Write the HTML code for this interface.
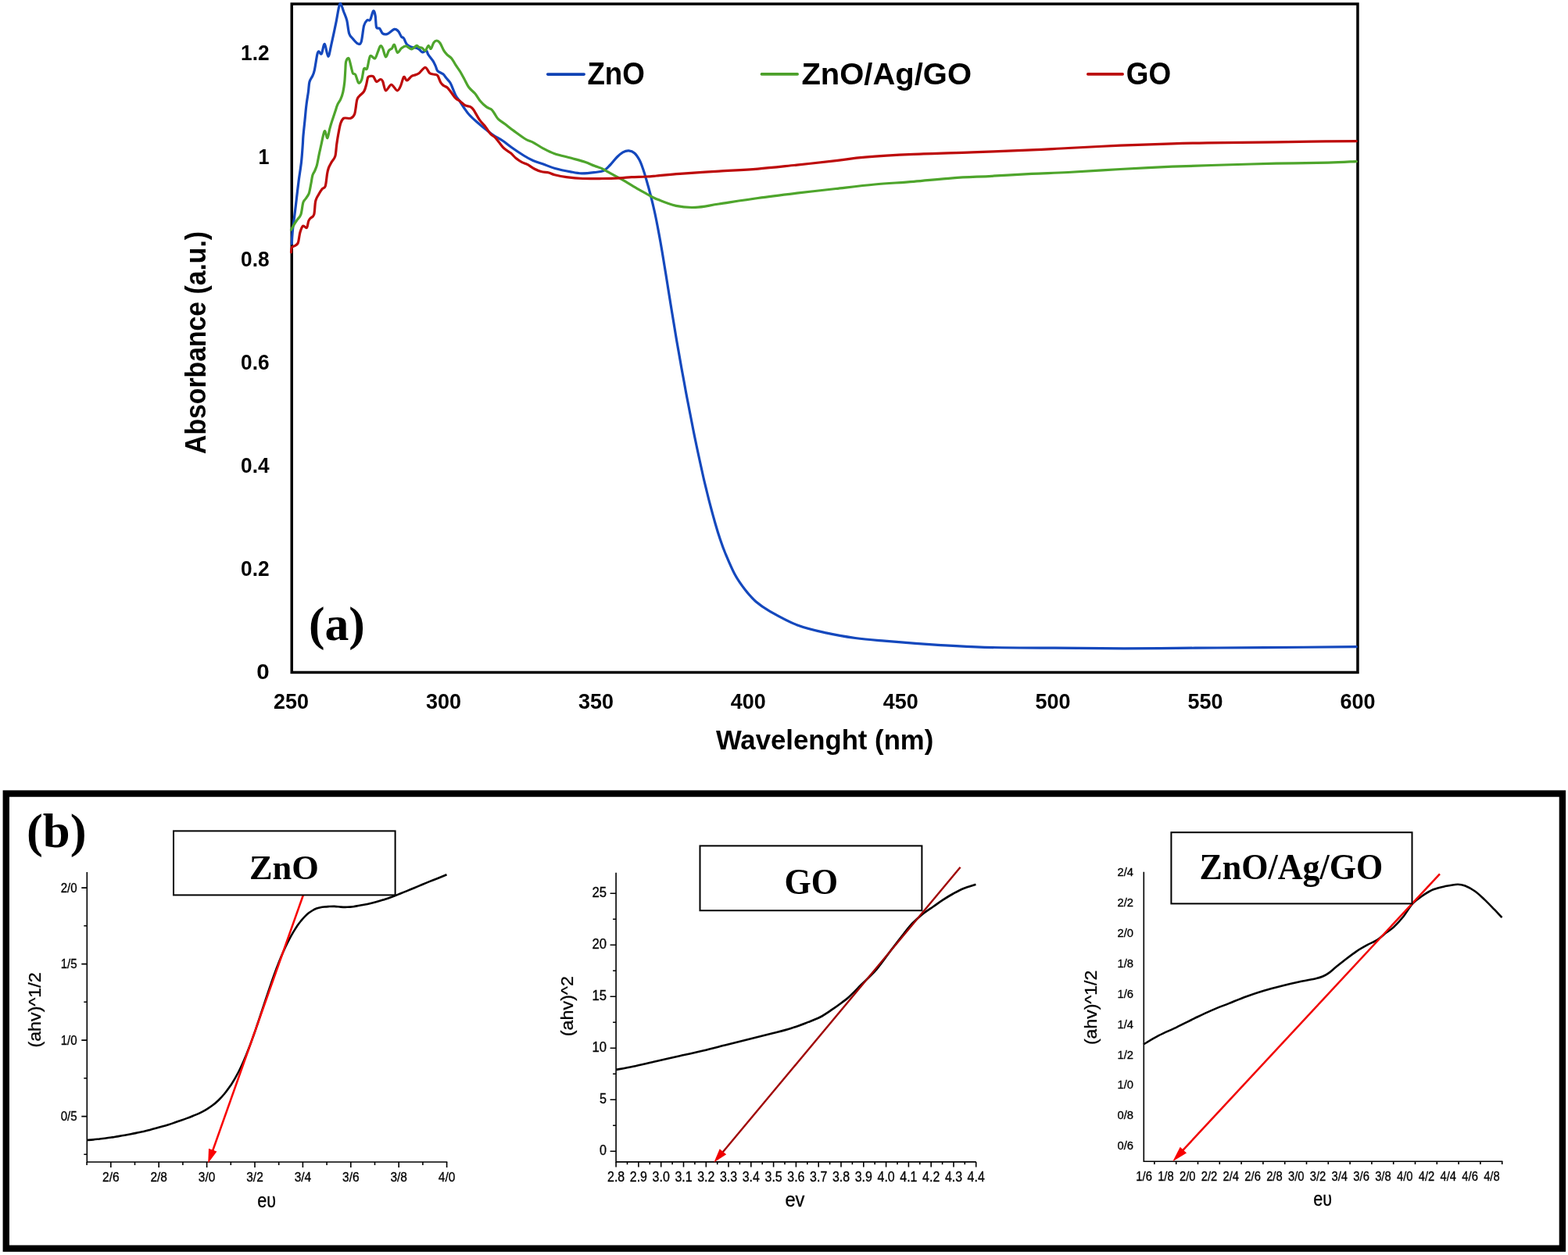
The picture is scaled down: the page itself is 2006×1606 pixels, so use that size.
<!DOCTYPE html><html><head><meta charset="utf-8"><title>UV-Vis absorbance and Tauc plots</title><style>html,body{margin:0;padding:0;background:#fff;}svg{display:block;}</style></head><body>
<svg width="2006" height="1606" viewBox="0 0 2006 1606">
<rect width="2006" height="1606" fill="#fff"/>
<text x="344.6" y="77.4" font-family="'Liberation Sans', sans-serif" font-size="27.5" font-weight="bold" text-anchor="end" textLength="36.5" lengthAdjust="spacingAndGlyphs">1.2</text>
<text x="344.6" y="209.6" font-family="'Liberation Sans', sans-serif" font-size="27.5" font-weight="bold" text-anchor="end" textLength="14.0" lengthAdjust="spacingAndGlyphs">1</text>
<text x="344.6" y="340.7" font-family="'Liberation Sans', sans-serif" font-size="27.5" font-weight="bold" text-anchor="end" textLength="36.5" lengthAdjust="spacingAndGlyphs">0.8</text>
<text x="344.6" y="472.7" font-family="'Liberation Sans', sans-serif" font-size="27.5" font-weight="bold" text-anchor="end" textLength="36.5" lengthAdjust="spacingAndGlyphs">0.6</text>
<text x="344.6" y="605.3" font-family="'Liberation Sans', sans-serif" font-size="27.5" font-weight="bold" text-anchor="end" textLength="36.5" lengthAdjust="spacingAndGlyphs">0.4</text>
<text x="344.6" y="737.2" font-family="'Liberation Sans', sans-serif" font-size="27.5" font-weight="bold" text-anchor="end" textLength="36.5" lengthAdjust="spacingAndGlyphs">0.2</text>
<text x="344.6" y="869.0" font-family="'Liberation Sans', sans-serif" font-size="27.5" font-weight="bold" text-anchor="end" textLength="16.4" lengthAdjust="spacingAndGlyphs">0</text>
<text x="372.6" y="907.0" font-family="'Liberation Sans', sans-serif" font-size="27.5" font-weight="bold" text-anchor="middle" textLength="45.0" lengthAdjust="spacingAndGlyphs">250</text>
<text x="567.5" y="907.0" font-family="'Liberation Sans', sans-serif" font-size="27.5" font-weight="bold" text-anchor="middle" textLength="45.0" lengthAdjust="spacingAndGlyphs">300</text>
<text x="762.4" y="907.0" font-family="'Liberation Sans', sans-serif" font-size="27.5" font-weight="bold" text-anchor="middle" textLength="45.0" lengthAdjust="spacingAndGlyphs">350</text>
<text x="957.3" y="907.0" font-family="'Liberation Sans', sans-serif" font-size="27.5" font-weight="bold" text-anchor="middle" textLength="45.0" lengthAdjust="spacingAndGlyphs">400</text>
<text x="1152.2" y="907.0" font-family="'Liberation Sans', sans-serif" font-size="27.5" font-weight="bold" text-anchor="middle" textLength="45.0" lengthAdjust="spacingAndGlyphs">450</text>
<text x="1347.1" y="907.0" font-family="'Liberation Sans', sans-serif" font-size="27.5" font-weight="bold" text-anchor="middle" textLength="45.0" lengthAdjust="spacingAndGlyphs">500</text>
<text x="1542.0" y="907.0" font-family="'Liberation Sans', sans-serif" font-size="27.5" font-weight="bold" text-anchor="middle" textLength="45.0" lengthAdjust="spacingAndGlyphs">550</text>
<text x="1736.9" y="907.0" font-family="'Liberation Sans', sans-serif" font-size="27.5" font-weight="bold" text-anchor="middle" textLength="45.0" lengthAdjust="spacingAndGlyphs">600</text>
<text x="1055.1" y="958.5" font-family="'Liberation Sans', sans-serif" font-size="35.6" font-weight="bold" text-anchor="middle" textLength="278.4" lengthAdjust="spacingAndGlyphs">Wavelenght (nm)</text>
<text transform="translate(262.6,438.4) rotate(-90)" x="0" y="0" font-family="'Liberation Sans', sans-serif" font-size="36" font-weight="bold" text-anchor="middle" textLength="285" lengthAdjust="spacingAndGlyphs">Absorbance (a.u.)</text>
<g stroke-linecap="round" stroke-width="3.6" fill="none">
<line x1="700.7" y1="95.1" x2="747.2" y2="95.1" stroke="#0f42b4"/>
<line x1="974.4" y1="94.9" x2="1020.2" y2="94.9" stroke="#4ca02a"/>
<line x1="1391.8" y1="94.9" x2="1436.2" y2="94.9" stroke="#bb0a0a"/>
</g>
<text x="751.4" y="108.2" font-family="'Liberation Sans', sans-serif" font-size="40.0" font-weight="bold" text-anchor="start" textLength="73.5" lengthAdjust="spacingAndGlyphs">ZnO</text>
<text x="1025.4" y="107.8" font-family="'Liberation Sans', sans-serif" font-size="39.0" font-weight="bold" text-anchor="start" textLength="217.6" lengthAdjust="spacingAndGlyphs">ZnO/Ag/GO</text>
<text x="1440.8" y="108.2" font-family="'Liberation Sans', sans-serif" font-size="40.0" font-weight="bold" text-anchor="start" textLength="57.4" lengthAdjust="spacingAndGlyphs">GO</text>
<text x="394.9" y="818.6" font-family="'Liberation Serif', serif" font-size="61.0" font-weight="bold" text-anchor="start" textLength="72.0" lengthAdjust="spacingAndGlyphs">(a)</text>
<rect x="373.25" y="5.05" width="1363.7" height="855.4" fill="none" stroke="#000" stroke-width="3.5"/>
<g fill="none" stroke-width="3.2" stroke-linejoin="round" stroke-linecap="round">
<path d="M373.3,312.0 C373.4,309.5 373.7,302.6 374.2,297.0 C374.7,291.4 375.6,285.4 376.5,278.4 C377.4,271.4 378.4,262.8 379.3,255.0 C380.2,247.2 381.1,239.5 382.1,231.7 C383.1,223.9 384.5,216.1 385.4,208.3 C386.3,200.5 386.9,190.6 387.3,185.0 C387.7,179.4 387.5,179.7 387.9,174.7 C388.3,169.7 389.2,161.4 389.9,154.8 C390.6,148.2 391.1,141.1 391.9,134.9 C392.6,128.8 393.7,122.9 394.4,117.9 C395.1,112.9 395.0,108.5 395.9,105.0 C396.8,101.5 398.8,99.5 399.9,97.0 C401.0,94.5 401.3,94.3 402.3,89.8 C403.3,85.3 404.9,73.8 405.8,69.8 C406.7,65.8 406.9,66.0 407.8,65.8 C408.7,65.6 410.1,70.4 411.3,68.8 C412.6,67.2 413.9,55.7 415.3,56.3 C416.7,56.9 418.4,72.0 419.8,72.3 C421.2,72.5 422.1,64.9 423.7,57.8 C425.3,50.7 427.9,38.4 429.7,29.9 C431.4,21.4 433.0,10.4 434.2,6.5 C435.4,2.6 435.8,5.1 436.7,6.5 C437.6,7.9 438.5,11.8 439.7,15.0 C440.9,18.2 442.5,21.2 443.7,25.9 C444.9,30.5 445.4,38.9 446.7,42.9 C448.0,46.9 449.9,47.8 451.7,49.9 C453.5,52.0 455.9,55.1 457.6,55.8 C459.3,56.4 460.8,57.6 462.1,53.8 C463.4,50.0 464.4,37.5 465.6,32.9 C466.9,28.2 468.3,27.1 469.6,25.9 C470.9,24.6 472.3,27.4 473.6,25.4 C474.9,23.4 476.5,14.9 477.6,14.0 C478.7,13.1 479.4,16.4 480.1,19.9 C480.8,23.4 480.7,32.1 481.6,34.9 C482.5,37.6 484.3,35.1 485.6,36.4 C486.9,37.7 488.0,41.7 489.6,42.9 C491.2,44.1 493.0,44.3 495.5,43.4 C498.0,42.5 502.2,38.0 504.5,37.4 C506.8,36.8 508.0,38.3 509.5,39.9 C511.0,41.5 512.3,45.4 513.5,46.9 C514.7,48.4 515.3,47.2 516.5,48.9 C517.7,50.5 518.9,54.9 520.5,56.8 C522.1,58.7 524.3,59.5 526.4,60.3 C528.5,61.1 531.2,60.8 533.0,61.4 C534.8,62.0 535.8,63.0 537.0,63.9 C538.2,64.8 539.1,66.7 540.5,66.9 C541.9,67.1 544.3,64.4 545.5,64.9 C546.7,65.4 546.5,67.7 547.9,69.9 C549.3,72.1 552.3,75.4 553.9,77.9 C555.5,80.4 556.4,82.8 557.4,84.9 C558.4,87.1 558.3,89.2 559.9,90.8 C561.5,92.4 565.1,93.3 566.9,94.8 C568.7,96.3 569.4,98.0 570.9,99.8 C572.4,101.6 574.4,103.3 575.9,105.8 C577.4,108.3 578.7,112.0 579.9,114.8 C581.1,117.6 581.8,120.0 583.2,122.5 C584.6,125.0 586.6,127.1 588.2,129.5 C589.8,131.9 591.0,134.2 593.0,137.0 C595.0,139.8 597.2,143.3 600.0,146.5 C602.8,149.7 606.3,152.8 610.0,156.0 C613.7,159.2 618.3,163.1 622.0,166.0 C625.7,168.9 628.5,171.2 632.0,173.5 C635.5,175.8 639.2,177.4 643.0,180.0 C646.8,182.6 650.5,185.8 655.0,189.0 C659.5,192.2 665.5,196.2 670.0,199.0 C674.5,201.8 677.8,203.7 682.0,205.5 C686.2,207.3 690.3,208.3 695.0,210.0 C699.7,211.7 704.2,213.9 710.0,215.5 C715.8,217.1 724.3,218.8 730.0,219.8 C735.7,220.9 739.0,221.7 744.0,221.8 C749.0,221.9 755.3,221.2 760.0,220.6 C764.7,220.0 768.5,220.1 772.0,218.5 C775.5,216.9 777.8,213.9 780.7,211.0 C783.6,208.1 786.7,203.7 789.4,201.0 C792.1,198.3 794.4,196.2 796.9,194.8 C799.4,193.5 801.9,192.7 804.4,192.9 C806.9,193.1 809.5,194.0 811.8,196.0 C814.1,198.0 816.2,201.3 818.1,204.8 C820.0,208.3 821.5,213.0 823.0,217.2 C824.5,221.4 825.3,224.5 826.9,230.0 C828.5,235.5 830.7,243.3 832.4,250.0 C834.1,256.7 835.7,263.3 837.2,270.0 C838.7,276.7 840.0,283.3 841.3,290.0 C842.6,296.7 843.8,303.3 845.0,310.0 C846.2,316.7 847.3,323.3 848.4,330.0 C849.5,336.7 850.6,343.3 851.7,350.0 C852.8,356.7 853.8,363.3 854.9,370.0 C856.0,376.7 857.0,383.3 858.1,390.0 C859.2,396.7 860.3,403.3 861.4,410.0 C862.5,416.7 863.6,423.3 864.7,430.0 C865.8,436.7 867.0,443.3 868.2,450.0 C869.4,456.7 870.5,463.3 871.7,470.0 C872.9,476.7 874.2,483.3 875.4,490.0 C876.6,496.7 877.8,503.3 879.1,510.0 C880.4,516.7 881.7,523.3 883.0,530.0 C884.3,536.7 885.6,543.3 886.9,550.0 C888.2,556.7 889.6,563.3 891.0,570.0 C892.4,576.7 893.8,583.3 895.3,590.0 C896.8,596.7 898.2,603.3 899.7,610.0 C901.2,616.7 902.9,623.3 904.5,630.0 C906.1,636.7 907.8,643.3 909.6,650.0 C911.4,656.7 913.2,663.3 915.1,670.0 C917.0,676.7 919.2,683.8 921.3,690.0 C923.4,696.2 924.4,699.6 927.5,707.0 C930.6,714.4 935.5,726.4 939.8,734.4 C944.1,742.4 948.9,749.0 953.5,754.9 C958.1,760.8 962.0,765.4 967.2,770.0 C972.5,774.6 976.3,777.3 985.0,782.3 C993.7,787.2 1007.5,795.1 1019.5,799.7 C1031.5,804.3 1044.3,807.1 1056.8,809.9 C1069.2,812.7 1081.8,814.8 1094.2,816.5 C1106.7,818.2 1113.9,818.7 1131.5,820.2 C1149.1,821.7 1178.4,823.9 1199.8,825.3 C1221.2,826.6 1234.8,827.6 1259.7,828.3 C1284.6,828.9 1319.5,829.0 1349.4,829.2 C1379.3,829.5 1409.2,829.8 1439.1,829.8 C1469.0,829.8 1499.0,829.4 1528.9,829.2 C1558.8,829.0 1584.2,828.9 1618.6,828.6 C1653.0,828.4 1715.8,827.9 1735.3,827.7" stroke="#1448bd"/>
<path d="M372.5,294.0 C373.2,292.8 375.2,288.9 376.5,286.8 C377.8,284.7 378.9,283.2 380.3,281.2 C381.7,279.2 383.7,278.2 384.9,274.6 C386.1,271.0 386.8,263.0 387.7,259.7 C388.6,256.4 389.2,257.0 390.5,255.0 C391.8,253.0 393.9,251.0 395.2,247.6 C396.4,244.2 397.2,238.4 398.0,234.5 C398.8,230.6 399.1,226.8 399.9,224.2 C400.7,221.5 401.8,220.8 402.7,218.6 C403.6,216.4 404.6,214.7 405.5,211.1 C406.4,207.5 407.4,201.4 408.3,197.1 C409.2,192.8 410.1,189.2 411.0,185.0 C411.9,180.8 413.1,174.7 413.9,171.8 C414.7,168.9 415.1,167.0 415.9,167.8 C416.7,168.6 417.9,177.2 418.9,176.7 C419.9,176.2 420.8,168.5 421.8,164.8 C422.8,161.2 423.6,158.5 424.8,154.8 C426.0,151.1 427.6,146.3 428.8,142.8 C430.0,139.3 430.6,136.6 431.8,133.9 C433.0,131.2 434.6,129.6 435.8,126.9 C437.0,124.2 438.0,121.6 438.8,117.9 C439.6,114.2 440.3,109.7 440.8,105.0 C441.3,100.3 441.5,94.4 441.8,90.0 C442.1,85.6 442.0,81.3 442.7,78.8 C443.4,76.3 445.0,73.3 446.2,74.8 C447.4,76.3 448.8,84.5 449.7,87.7 C450.6,90.9 450.7,92.7 451.5,94.0 C452.3,95.3 453.5,93.5 454.7,95.5 C455.9,97.5 457.4,104.9 458.7,106.0 C460.0,107.1 461.5,105.0 462.7,102.0 C463.9,99.0 464.5,90.4 465.6,88.0 C466.8,85.6 468.3,90.4 469.6,87.7 C470.9,85.0 471.9,74.0 473.6,71.8 C475.3,69.6 477.9,75.8 479.6,74.8 C481.3,73.8 482.4,68.5 483.6,65.8 C484.8,63.1 485.6,59.5 486.6,58.8 C487.6,58.1 488.5,59.5 489.6,61.8 C490.8,64.1 492.2,72.3 493.5,72.8 C494.8,73.3 496.2,66.6 497.5,64.8 C498.8,63.0 500.3,63.0 501.5,61.8 C502.7,60.5 503.3,56.4 504.5,57.3 C505.7,58.2 507.0,66.5 508.5,67.3 C510.0,68.0 511.7,63.2 513.5,61.8 C515.3,60.4 517.4,58.6 519.5,58.8 C521.6,59.0 524.1,62.9 526.4,62.8 C528.6,62.7 531.4,58.8 533.0,58.4 C534.6,58.0 534.8,59.9 536.0,60.4 C537.2,60.9 538.7,60.6 540.0,61.4 C541.3,62.1 542.7,65.4 544.0,64.9 C545.3,64.4 546.8,58.8 548.0,58.4 C549.2,58.0 550.2,63.0 551.4,62.4 C552.5,61.8 553.6,56.2 554.9,54.5 C556.1,52.8 557.6,51.9 558.9,52.0 C560.2,52.1 561.4,52.9 562.9,55.0 C564.4,57.1 566.4,62.4 567.9,64.9 C569.4,67.4 570.2,68.2 571.9,69.9 C573.6,71.6 576.1,72.7 577.9,74.9 C579.7,77.1 581.0,80.1 582.8,82.9 C584.6,85.7 587.0,88.8 588.8,91.8 C590.6,94.8 592.0,97.5 593.8,100.8 C595.6,104.1 597.5,108.6 599.8,111.8 C602.1,115.0 605.3,116.8 607.8,119.8 C610.3,122.8 612.4,127.0 614.8,129.8 C617.2,132.7 620.1,135.2 622.4,136.9 C624.7,138.6 626.9,138.7 628.6,140.0 C630.3,141.3 630.9,142.9 632.4,145.0 C633.9,147.1 635.1,150.1 637.4,152.4 C639.7,154.7 642.8,156.2 646.1,158.7 C649.4,161.2 652.9,164.2 657.3,167.4 C661.7,170.6 668.1,175.5 672.3,178.0 C676.4,180.5 678.5,180.3 682.2,182.3 C685.9,184.3 690.1,187.4 694.7,189.8 C699.3,192.2 703.6,194.6 709.6,196.7 C715.6,198.8 724.3,200.5 730.8,202.3 C737.2,204.1 743.3,205.6 748.3,207.3 C753.3,209.0 757.2,211.0 760.7,212.3 C764.2,213.7 766.2,213.9 769.5,215.4 C772.8,216.9 776.4,219.2 780.7,221.6 C785.1,224.0 790.0,226.5 795.6,229.7 C801.2,232.9 809.1,237.9 814.3,240.9 C819.5,243.9 822.5,245.5 826.8,247.8 C831.1,250.1 833.6,252.1 840.0,254.7 C846.4,257.3 856.6,261.6 864.9,263.4 C873.2,265.2 880.7,265.8 889.8,265.4 C898.9,265.0 906.4,263.0 919.7,261.0 C933.0,259.0 953.0,255.8 969.6,253.5 C986.2,251.2 1002.8,249.2 1019.4,247.2 C1036.0,245.2 1052.7,243.4 1069.3,241.5 C1085.9,239.6 1102.5,237.5 1119.1,236.0 C1135.7,234.5 1152.4,233.7 1169.0,232.3 C1185.6,230.9 1202.2,229.0 1218.8,227.8 C1235.4,226.6 1251.8,226.2 1268.7,225.3 C1285.6,224.4 1303.7,223.1 1320.0,222.3 C1336.3,221.5 1347.7,221.5 1366.5,220.5 C1385.3,219.5 1410.9,217.7 1433.1,216.5 C1455.3,215.3 1477.4,214.1 1499.6,213.2 C1521.8,212.3 1544.0,211.7 1566.2,211.0 C1588.4,210.3 1610.5,209.7 1632.7,209.2 C1654.9,208.7 1682.2,208.5 1699.3,208.1 C1716.4,207.7 1729.3,206.8 1735.3,206.6" stroke="#4ea52c"/>
<path d="M372.5,323.0 C372.6,321.9 372.6,318.1 373.3,316.7 C374.0,315.3 375.2,315.8 376.5,314.8 C377.8,313.9 379.9,314.0 381.2,311.0 C382.4,308.0 382.9,300.6 384.0,297.0 C385.1,293.4 386.3,290.0 387.7,289.1 C389.1,288.2 391.2,292.4 392.4,291.4 C393.6,290.4 393.9,285.0 394.7,283.0 C395.5,281.0 395.9,280.7 397.1,279.3 C398.3,277.9 400.6,278.2 401.7,274.6 C402.8,271.0 402.7,262.0 403.6,257.8 C404.5,253.6 405.9,252.0 407.3,249.4 C408.7,246.8 410.5,243.9 412.0,242.0 C413.5,240.1 415.1,241.5 416.2,238.2 C417.3,234.9 417.9,226.2 418.6,222.3 C419.3,218.4 419.5,217.4 420.4,214.9 C421.3,212.4 422.8,209.9 424.2,207.4 C425.6,204.9 427.7,203.6 428.8,199.9 C429.9,196.2 430.0,189.7 430.7,185.0 C431.4,180.3 431.9,176.3 432.8,171.8 C433.7,167.3 434.6,161.2 435.8,157.8 C437.0,154.4 437.6,152.4 439.8,151.3 C442.0,150.2 446.5,152.2 448.8,151.3 C451.1,150.4 452.4,149.7 453.7,145.8 C455.0,141.9 455.7,131.7 456.7,127.9 C457.7,124.1 458.2,124.7 459.7,122.9 C461.2,121.1 464.2,119.4 465.7,116.9 C467.2,114.4 467.9,111.0 468.7,108.0 C469.5,105.0 469.9,100.8 470.7,99.0 C471.5,97.2 472.5,97.7 473.7,97.5 C474.9,97.3 476.4,96.8 477.7,98.0 C479.0,99.2 480.2,103.9 481.7,104.5 C483.2,105.1 485.3,101.6 486.6,101.5 C487.9,101.4 488.4,101.6 489.6,104.0 C490.8,106.4 491.8,115.2 493.6,115.9 C495.4,116.6 498.2,108.4 500.6,108.4 C503.0,108.4 506.1,115.7 508.1,115.9 C510.1,116.2 511.2,112.8 512.6,109.9 C514.0,107.0 515.3,99.7 516.6,98.5 C517.9,97.3 519.0,103.2 520.6,103.0 C522.2,102.8 524.9,98.6 526.5,97.5 C528.1,96.4 528.4,96.9 530.0,96.3 C531.6,95.7 533.7,95.4 536.0,93.8 C538.3,92.2 541.7,86.4 544.0,86.4 C546.3,86.4 547.9,92.3 549.9,93.8 C551.9,95.3 554.2,94.8 555.9,95.3 C557.6,95.8 558.6,95.0 559.9,96.8 C561.2,98.5 562.6,103.6 563.9,105.8 C565.2,108.0 566.6,108.8 567.9,109.8 C569.2,110.8 570.4,110.5 571.9,111.8 C573.4,113.1 575.1,115.5 576.9,117.8 C578.7,120.1 580.8,123.7 582.8,125.7 C584.8,127.7 586.8,128.2 588.8,129.7 C590.8,131.2 592.6,133.5 594.8,134.7 C597.0,135.9 600.0,135.7 601.8,136.7 C603.6,137.7 603.8,137.7 605.8,140.5 C607.8,143.3 611.1,150.0 613.7,153.7 C616.3,157.3 618.9,159.5 621.2,162.4 C623.5,165.3 625.3,168.8 627.4,171.1 C629.5,173.4 631.7,174.2 633.6,176.1 C635.5,178.0 636.7,180.0 638.6,182.3 C640.5,184.6 642.3,187.5 644.8,189.8 C647.3,192.1 651.1,194.0 653.6,196.1 C656.1,198.2 657.5,200.4 659.8,202.3 C662.1,204.2 664.8,206.0 667.3,207.3 C669.8,208.7 672.0,209.0 674.7,210.4 C677.4,211.8 680.6,214.5 683.5,216.0 C686.4,217.5 689.1,218.7 692.2,219.5 C695.3,220.3 699.3,220.3 702.2,221.0 C705.1,221.7 705.9,222.8 709.6,223.7 C713.3,224.6 718.6,225.8 724.6,226.6 C730.6,227.4 738.1,228.2 745.8,228.5 C753.5,228.8 762.8,228.6 770.7,228.5 C778.6,228.4 786.9,228.1 793.1,227.8 C799.3,227.5 802.5,226.9 808.1,226.6 C813.7,226.3 821.5,226.3 826.8,226.0 C832.1,225.7 832.8,225.6 840.0,225.0 C847.2,224.4 856.6,223.3 869.9,222.3 C883.2,221.3 903.1,220.1 919.7,219.1 C936.3,218.1 953.0,217.4 969.6,216.1 C986.2,214.8 1002.8,212.8 1019.4,211.1 C1036.0,209.3 1054.8,207.3 1069.3,205.6 C1083.8,203.9 1090.0,202.5 1106.6,201.1 C1123.2,199.7 1146.2,198.4 1169.0,197.4 C1191.8,196.4 1218.5,195.8 1243.7,194.9 C1268.9,194.0 1299.5,192.8 1320.0,191.9 C1340.5,191.0 1347.7,190.4 1366.5,189.5 C1385.3,188.6 1410.9,187.1 1433.1,186.2 C1455.3,185.3 1481.1,184.5 1499.6,183.9 C1518.1,183.3 1525.5,183.1 1544.0,182.8 C1562.5,182.5 1588.4,182.5 1610.6,182.2 C1632.8,181.9 1656.3,181.4 1677.1,181.1 C1697.9,180.8 1725.6,180.7 1735.3,180.6" stroke="#bd0a0a"/>
</g>
<rect x="7.8" y="1015.55" width="1991.1" height="582.1" fill="none" stroke="#000" stroke-width="8.4"/>
<text x="34.0" y="1084.0" font-family="'Liberation Serif', serif" font-size="61.0" font-weight="bold" text-anchor="start" textLength="76.6" lengthAdjust="spacingAndGlyphs">(b)</text>
<path d="M111.3,1116.0 L111.3,1487.0 L572.3,1487.0" stroke="#000" stroke-width="1.6" fill="none"/>
<path d="M111.1,1487.0 v4.0 M141.8,1487.0 v7.0 M172.5,1487.0 v4.0 M203.2,1487.0 v7.0 M233.9,1487.0 v4.0 M264.6,1487.0 v7.0 M295.3,1487.0 v4.0 M326.0,1487.0 v7.0 M356.7,1487.0 v4.0 M387.4,1487.0 v7.0 M418.1,1487.0 v4.0 M448.8,1487.0 v7.0 M479.5,1487.0 v4.0 M510.2,1487.0 v7.0 M540.9,1487.0 v4.0 M571.6,1487.0 v7.0 M111.3,1477.3 h-4.0 M111.3,1428.6 h-7.0 M111.3,1379.8 h-4.0 M111.3,1331.1 h-7.0 M111.3,1282.3 h-4.0 M111.3,1233.6 h-7.0 M111.3,1184.8 h-4.0 M111.3,1136.1 h-7.0" stroke="#000" stroke-width="1.6" fill="none"/>
<text x="141.8" y="1512.4" font-family="'Liberation Sans', sans-serif" font-size="16.0" font-weight="normal" text-anchor="middle" textLength="21.5" lengthAdjust="spacingAndGlyphs" stroke="#000" stroke-width="0.3">2/6</text>
<text x="203.2" y="1512.4" font-family="'Liberation Sans', sans-serif" font-size="16.0" font-weight="normal" text-anchor="middle" textLength="21.5" lengthAdjust="spacingAndGlyphs" stroke="#000" stroke-width="0.3">2/8</text>
<text x="264.6" y="1512.4" font-family="'Liberation Sans', sans-serif" font-size="16.0" font-weight="normal" text-anchor="middle" textLength="21.5" lengthAdjust="spacingAndGlyphs" stroke="#000" stroke-width="0.3">3/0</text>
<text x="326.0" y="1512.4" font-family="'Liberation Sans', sans-serif" font-size="16.0" font-weight="normal" text-anchor="middle" textLength="21.5" lengthAdjust="spacingAndGlyphs" stroke="#000" stroke-width="0.3">3/2</text>
<text x="387.4" y="1512.4" font-family="'Liberation Sans', sans-serif" font-size="16.0" font-weight="normal" text-anchor="middle" textLength="21.5" lengthAdjust="spacingAndGlyphs" stroke="#000" stroke-width="0.3">3/4</text>
<text x="448.8" y="1512.4" font-family="'Liberation Sans', sans-serif" font-size="16.0" font-weight="normal" text-anchor="middle" textLength="21.5" lengthAdjust="spacingAndGlyphs" stroke="#000" stroke-width="0.3">3/6</text>
<text x="510.2" y="1512.4" font-family="'Liberation Sans', sans-serif" font-size="16.0" font-weight="normal" text-anchor="middle" textLength="21.5" lengthAdjust="spacingAndGlyphs" stroke="#000" stroke-width="0.3">3/8</text>
<text x="571.6" y="1512.4" font-family="'Liberation Sans', sans-serif" font-size="16.0" font-weight="normal" text-anchor="middle" textLength="21.5" lengthAdjust="spacingAndGlyphs" stroke="#000" stroke-width="0.3">4/0</text>
<text x="98.7" y="1141.7" font-family="'Liberation Sans', sans-serif" font-size="16.0" font-weight="normal" text-anchor="end" textLength="21.0" lengthAdjust="spacingAndGlyphs" stroke="#000" stroke-width="0.3">2/0</text>
<text x="98.7" y="1239.2" font-family="'Liberation Sans', sans-serif" font-size="16.0" font-weight="normal" text-anchor="end" textLength="21.0" lengthAdjust="spacingAndGlyphs" stroke="#000" stroke-width="0.3">1/5</text>
<text x="98.7" y="1336.7" font-family="'Liberation Sans', sans-serif" font-size="16.0" font-weight="normal" text-anchor="end" textLength="21.0" lengthAdjust="spacingAndGlyphs" stroke="#000" stroke-width="0.3">1/0</text>
<text x="98.7" y="1434.2" font-family="'Liberation Sans', sans-serif" font-size="16.0" font-weight="normal" text-anchor="end" textLength="21.0" lengthAdjust="spacingAndGlyphs" stroke="#000" stroke-width="0.3">0/5</text>
<text transform="translate(51.8,1292.45) rotate(-90)" font-family="'Liberation Sans', sans-serif" font-size="22.5" text-anchor="middle" stroke="#000" stroke-width="0.3" textLength="96.3" lengthAdjust="spacingAndGlyphs">(ahv)^1/2</text>
<text x="341.2" y="1544.8" font-family="'Liberation Sans', sans-serif" font-size="25.0" font-weight="normal" text-anchor="middle" textLength="23.7" lengthAdjust="spacingAndGlyphs" stroke="#000" stroke-width="0.3">e&#965;</text>
<path d="M111.5,1459.0 C112.8,1458.9 116.8,1458.7 119.5,1458.4 C122.2,1458.2 124.8,1457.8 127.5,1457.5 C130.2,1457.2 132.8,1456.8 135.5,1456.5 C138.2,1456.2 140.8,1455.8 143.5,1455.4 C146.2,1455.0 148.8,1454.5 151.5,1454.1 C154.2,1453.7 156.8,1453.3 159.5,1452.8 C162.2,1452.3 164.8,1451.8 167.5,1451.3 C170.2,1450.8 172.8,1450.2 175.5,1449.6 C178.2,1449.0 180.8,1448.5 183.5,1447.9 C186.2,1447.3 188.8,1446.6 191.5,1445.9 C194.2,1445.2 196.8,1444.5 199.5,1443.8 C202.2,1443.1 204.8,1442.4 207.5,1441.6 C210.2,1440.8 212.8,1440.0 215.5,1439.2 C218.2,1438.4 220.8,1437.5 223.5,1436.6 C226.2,1435.7 228.8,1434.8 231.5,1433.8 C234.2,1432.8 236.8,1431.9 239.5,1430.9 C242.2,1429.9 244.8,1428.8 247.5,1427.7 C250.2,1426.6 252.8,1425.6 255.5,1424.3 C258.2,1423.0 260.8,1421.7 263.5,1420.1 C266.2,1418.5 268.8,1416.8 271.5,1414.8 C274.2,1412.8 276.8,1410.6 279.5,1408.0 C282.2,1405.4 284.8,1402.6 287.5,1399.3 C290.2,1396.0 293.4,1391.4 295.5,1388.4 C297.6,1385.4 298.4,1383.8 300.0,1381.1 C301.6,1378.4 303.3,1375.2 305.0,1372.0 C306.7,1368.8 308.3,1365.3 310.0,1361.6 C311.7,1357.9 313.3,1354.0 315.0,1349.9 C316.7,1345.8 318.3,1341.5 320.0,1337.1 C321.7,1332.7 323.3,1328.0 325.0,1323.3 C326.7,1318.6 328.3,1313.6 330.0,1308.7 C331.7,1303.8 333.3,1298.7 335.0,1293.7 C336.7,1288.7 338.3,1283.7 340.0,1278.7 C341.7,1273.7 343.3,1268.8 345.0,1263.9 C346.7,1259.0 348.3,1254.2 350.0,1249.5 C351.7,1244.8 353.3,1240.3 355.0,1236.0 C356.7,1231.7 358.3,1227.5 360.0,1223.5 C361.7,1219.5 363.3,1215.8 365.0,1212.2 C366.7,1208.6 368.3,1205.3 370.0,1202.1 C371.7,1198.9 373.3,1195.9 375.0,1193.1 C376.7,1190.3 378.3,1187.6 380.0,1185.2 C381.7,1182.8 383.3,1180.5 385.0,1178.5 C386.7,1176.5 388.3,1174.6 390.0,1172.9 C391.7,1171.2 393.3,1169.6 395.0,1168.3 C396.7,1167.0 398.3,1166.0 400.0,1165.0 C401.7,1164.0 403.3,1163.2 405.0,1162.6 C406.7,1162.0 408.3,1161.5 410.0,1161.2 C411.7,1160.9 413.3,1160.7 415.0,1160.5 C416.7,1160.3 417.8,1160.2 420.0,1160.1 C422.2,1160.0 425.3,1159.8 428.0,1159.9 C430.7,1160.0 433.3,1160.4 436.0,1160.6 C438.7,1160.8 441.3,1160.9 444.0,1160.8 C446.7,1160.7 449.3,1160.5 452.0,1160.2 C454.7,1159.9 457.0,1159.2 460.0,1158.7 C463.0,1158.2 466.7,1157.7 470.0,1157.0 C473.3,1156.3 476.7,1155.5 480.0,1154.6 C483.3,1153.7 486.7,1152.7 490.0,1151.6 C493.3,1150.5 496.7,1149.4 500.0,1148.2 C503.3,1147.0 506.7,1145.7 510.0,1144.4 C513.3,1143.1 516.7,1141.8 520.0,1140.4 C523.3,1139.0 526.7,1137.6 530.0,1136.2 C533.3,1134.8 536.7,1133.4 540.0,1132.0 C543.3,1130.6 546.7,1129.2 550.0,1127.9 C553.3,1126.6 556.4,1125.4 560.0,1124.0 C563.6,1122.6 569.6,1120.1 571.5,1119.3" fill="none" stroke="#000" stroke-width="2.6" stroke-linejoin="round"/>
<line x1="388.8" y1="1143" x2="270.0" y2="1478.5" stroke="#f80000" stroke-width="2.5"/>
<polygon points="266.2,1488.6 267.0,1469.8 277.4,1473.5" fill="#fa0000"/>
<rect x="222" y="1063.4" width="283.6" height="82" fill="#fff" stroke="#000" stroke-width="2"/>
<text x="363.4" y="1124.9" font-family="'Liberation Serif', serif" font-size="45.0" font-weight="bold" text-anchor="middle" textLength="89.0" lengthAdjust="spacingAndGlyphs">ZnO</text>
<path d="M788.1,1116.7 L788.1,1486.9 L1248.8,1486.9" stroke="#000" stroke-width="1.6" fill="none"/>
<path d="M788.1,1486.9 v6.5 M802.5,1486.9 v3.3 M816.9,1486.9 v6.5 M831.3,1486.9 v3.3 M845.7,1486.9 v6.5 M860.1,1486.9 v3.3 M874.5,1486.9 v6.5 M888.9,1486.9 v3.3 M903.3,1486.9 v6.5 M917.7,1486.9 v3.3 M932.0,1486.9 v6.5 M946.4,1486.9 v3.3 M960.8,1486.9 v6.5 M975.2,1486.9 v3.3 M989.6,1486.9 v6.5 M1004.0,1486.9 v3.3 M1018.4,1486.9 v6.5 M1032.8,1486.9 v3.3 M1047.2,1486.9 v6.5 M1061.6,1486.9 v3.3 M1076.0,1486.9 v6.5 M1090.4,1486.9 v3.3 M1104.8,1486.9 v6.5 M1119.2,1486.9 v3.3 M1133.6,1486.9 v6.5 M1148.0,1486.9 v3.3 M1162.4,1486.9 v6.5 M1176.8,1486.9 v3.3 M1191.2,1486.9 v6.5 M1205.6,1486.9 v3.3 M1220.0,1486.9 v6.5 M1234.3,1486.9 v3.3 M1248.7,1486.9 v6.5 M788.1,1473.3 h-7.5 M788.1,1440.3 h-4.0 M788.1,1407.3 h-7.5 M788.1,1374.3 h-4.0 M788.1,1341.3 h-7.5 M788.1,1308.3 h-4.0 M788.1,1275.3 h-7.5 M788.1,1242.3 h-4.0 M788.1,1209.3 h-7.5 M788.1,1176.3 h-4.0 M788.1,1143.3 h-7.5" stroke="#000" stroke-width="1.6" fill="none"/>
<text x="788.1" y="1511.7" font-family="'Liberation Sans', sans-serif" font-size="17.5" font-weight="normal" text-anchor="middle" textLength="22.2" lengthAdjust="spacingAndGlyphs" stroke="#000" stroke-width="0.3">2.8</text>
<text x="816.9" y="1511.7" font-family="'Liberation Sans', sans-serif" font-size="17.5" font-weight="normal" text-anchor="middle" textLength="22.2" lengthAdjust="spacingAndGlyphs" stroke="#000" stroke-width="0.3">2.9</text>
<text x="845.7" y="1511.7" font-family="'Liberation Sans', sans-serif" font-size="17.5" font-weight="normal" text-anchor="middle" textLength="22.2" lengthAdjust="spacingAndGlyphs" stroke="#000" stroke-width="0.3">3.0</text>
<text x="874.5" y="1511.7" font-family="'Liberation Sans', sans-serif" font-size="17.5" font-weight="normal" text-anchor="middle" textLength="22.2" lengthAdjust="spacingAndGlyphs" stroke="#000" stroke-width="0.3">3.1</text>
<text x="903.3" y="1511.7" font-family="'Liberation Sans', sans-serif" font-size="17.5" font-weight="normal" text-anchor="middle" textLength="22.2" lengthAdjust="spacingAndGlyphs" stroke="#000" stroke-width="0.3">3.2</text>
<text x="932.0" y="1511.7" font-family="'Liberation Sans', sans-serif" font-size="17.5" font-weight="normal" text-anchor="middle" textLength="22.2" lengthAdjust="spacingAndGlyphs" stroke="#000" stroke-width="0.3">3.3</text>
<text x="960.8" y="1511.7" font-family="'Liberation Sans', sans-serif" font-size="17.5" font-weight="normal" text-anchor="middle" textLength="22.2" lengthAdjust="spacingAndGlyphs" stroke="#000" stroke-width="0.3">3.4</text>
<text x="989.6" y="1511.7" font-family="'Liberation Sans', sans-serif" font-size="17.5" font-weight="normal" text-anchor="middle" textLength="22.2" lengthAdjust="spacingAndGlyphs" stroke="#000" stroke-width="0.3">3.5</text>
<text x="1018.4" y="1511.7" font-family="'Liberation Sans', sans-serif" font-size="17.5" font-weight="normal" text-anchor="middle" textLength="22.2" lengthAdjust="spacingAndGlyphs" stroke="#000" stroke-width="0.3">3.6</text>
<text x="1047.2" y="1511.7" font-family="'Liberation Sans', sans-serif" font-size="17.5" font-weight="normal" text-anchor="middle" textLength="22.2" lengthAdjust="spacingAndGlyphs" stroke="#000" stroke-width="0.3">3.7</text>
<text x="1076.0" y="1511.7" font-family="'Liberation Sans', sans-serif" font-size="17.5" font-weight="normal" text-anchor="middle" textLength="22.2" lengthAdjust="spacingAndGlyphs" stroke="#000" stroke-width="0.3">3.8</text>
<text x="1104.8" y="1511.7" font-family="'Liberation Sans', sans-serif" font-size="17.5" font-weight="normal" text-anchor="middle" textLength="22.2" lengthAdjust="spacingAndGlyphs" stroke="#000" stroke-width="0.3">3.9</text>
<text x="1133.6" y="1511.7" font-family="'Liberation Sans', sans-serif" font-size="17.5" font-weight="normal" text-anchor="middle" textLength="22.2" lengthAdjust="spacingAndGlyphs" stroke="#000" stroke-width="0.3">4.0</text>
<text x="1162.4" y="1511.7" font-family="'Liberation Sans', sans-serif" font-size="17.5" font-weight="normal" text-anchor="middle" textLength="22.2" lengthAdjust="spacingAndGlyphs" stroke="#000" stroke-width="0.3">4.1</text>
<text x="1191.2" y="1511.7" font-family="'Liberation Sans', sans-serif" font-size="17.5" font-weight="normal" text-anchor="middle" textLength="22.2" lengthAdjust="spacingAndGlyphs" stroke="#000" stroke-width="0.3">4.2</text>
<text x="1220.0" y="1511.7" font-family="'Liberation Sans', sans-serif" font-size="17.5" font-weight="normal" text-anchor="middle" textLength="22.2" lengthAdjust="spacingAndGlyphs" stroke="#000" stroke-width="0.3">4.3</text>
<text x="1248.7" y="1511.7" font-family="'Liberation Sans', sans-serif" font-size="17.5" font-weight="normal" text-anchor="middle" textLength="22.2" lengthAdjust="spacingAndGlyphs" stroke="#000" stroke-width="0.3">4.4</text>
<text x="776.0" y="1478.3" font-family="'Liberation Sans', sans-serif" font-size="17.5" font-weight="normal" text-anchor="end" textLength="9.0" lengthAdjust="spacingAndGlyphs" stroke="#000" stroke-width="0.3">0</text>
<text x="776.0" y="1412.3" font-family="'Liberation Sans', sans-serif" font-size="17.5" font-weight="normal" text-anchor="end" textLength="9.0" lengthAdjust="spacingAndGlyphs" stroke="#000" stroke-width="0.3">5</text>
<text x="776.0" y="1346.3" font-family="'Liberation Sans', sans-serif" font-size="17.5" font-weight="normal" text-anchor="end" textLength="18.6" lengthAdjust="spacingAndGlyphs" stroke="#000" stroke-width="0.3">10</text>
<text x="776.0" y="1280.3" font-family="'Liberation Sans', sans-serif" font-size="17.5" font-weight="normal" text-anchor="end" textLength="18.6" lengthAdjust="spacingAndGlyphs" stroke="#000" stroke-width="0.3">15</text>
<text x="776.0" y="1214.3" font-family="'Liberation Sans', sans-serif" font-size="17.5" font-weight="normal" text-anchor="end" textLength="18.6" lengthAdjust="spacingAndGlyphs" stroke="#000" stroke-width="0.3">20</text>
<text x="776.0" y="1148.3" font-family="'Liberation Sans', sans-serif" font-size="17.5" font-weight="normal" text-anchor="end" textLength="18.6" lengthAdjust="spacingAndGlyphs" stroke="#000" stroke-width="0.3">25</text>
<text transform="translate(733.4,1287.65) rotate(-90)" font-family="'Liberation Sans', sans-serif" font-size="22" text-anchor="middle" stroke="#000" stroke-width="0.3" textLength="77" lengthAdjust="spacingAndGlyphs">(ahv)^2</text>
<text x="1016.9" y="1544.0" font-family="'Liberation Sans', sans-serif" font-size="25.0" font-weight="normal" text-anchor="middle" textLength="25.0" lengthAdjust="spacingAndGlyphs" stroke="#000" stroke-width="0.3">ev</text>
<path d="M788.2,1368.9 C791.8,1368.2 801.3,1366.5 809.9,1364.7 C818.5,1362.9 829.8,1360.2 839.8,1358.0 C849.8,1355.8 859.7,1353.5 869.7,1351.2 C879.7,1349.0 889.6,1346.9 899.6,1344.5 C909.6,1342.1 919.5,1339.5 929.5,1337.0 C939.5,1334.5 949.5,1332.0 959.5,1329.5 C969.5,1327.0 980.7,1324.3 989.4,1322.1 C998.1,1319.9 1004.3,1318.5 1011.8,1316.1 C1019.3,1313.7 1027.9,1310.3 1034.2,1307.9 C1040.5,1305.5 1044.4,1304.1 1049.4,1301.5 C1054.4,1298.9 1059.5,1295.3 1064.1,1292.2 C1068.7,1289.1 1073.3,1285.8 1077.0,1283.0 C1080.7,1280.2 1082.0,1279.5 1086.2,1275.7 C1090.4,1271.9 1096.0,1265.9 1101.9,1260.0 C1107.8,1254.1 1115.0,1247.9 1121.6,1240.3 C1128.1,1232.7 1135.8,1221.4 1141.2,1214.2 C1146.7,1207.0 1150.0,1202.7 1154.3,1197.2 C1158.6,1191.8 1162.9,1186.1 1167.3,1181.5 C1171.7,1176.9 1176.0,1173.2 1180.4,1169.7 C1184.8,1166.2 1189.1,1163.5 1193.5,1160.5 C1197.9,1157.5 1202.2,1154.2 1206.6,1151.4 C1211.0,1148.6 1215.3,1145.9 1219.7,1143.5 C1224.1,1141.1 1227.9,1139.0 1232.7,1137.0 C1237.5,1135.0 1245.8,1132.7 1248.4,1131.8" fill="none" stroke="#000" stroke-width="2.6" stroke-linejoin="round"/>
<line x1="1228.6" y1="1109.8" x2="921.0" y2="1478.8" stroke="#a00000" stroke-width="2.4"/>
<polygon points="913.4,1487.6 920.7,1470.3 929.2,1477.3" fill="#f00000"/>
<rect x="895.5" y="1082.4" width="283.9" height="82.8" fill="#fff" stroke="#000" stroke-width="2"/>
<text x="1037.8" y="1144.2" font-family="'Liberation Serif', serif" font-size="45.5" font-weight="bold" text-anchor="middle" textLength="68.6" lengthAdjust="spacingAndGlyphs">GO</text>
<path d="M1463.3,1115.8 L1463.3,1486.3 L1922.4,1486.3" stroke="#000" stroke-width="1.6" fill="none"/>
<path d="M1476.9,1486.3 v3.6 M1504.7,1486.3 v3.6 M1532.5,1486.3 v3.6 M1560.3,1486.3 v3.6 M1588.1,1486.3 v3.6 M1615.9,1486.3 v3.6 M1643.7,1486.3 v3.6 M1671.5,1486.3 v3.6 M1699.3,1486.3 v3.6 M1727.1,1486.3 v3.6 M1754.9,1486.3 v3.6 M1782.7,1486.3 v3.6 M1810.5,1486.3 v3.6 M1838.3,1486.3 v3.6 M1866.1,1486.3 v3.6 M1893.9,1486.3 v3.6 M1921.7,1486.3 v3.6" stroke="#000" stroke-width="1.6" fill="none"/>
<text x="1463.6" y="1510.6" font-family="'Liberation Sans', sans-serif" font-size="16.0" font-weight="normal" text-anchor="middle" textLength="20.5" lengthAdjust="spacingAndGlyphs" stroke="#000" stroke-width="0.3">1/6</text>
<text x="1491.4" y="1510.6" font-family="'Liberation Sans', sans-serif" font-size="16.0" font-weight="normal" text-anchor="middle" textLength="20.5" lengthAdjust="spacingAndGlyphs" stroke="#000" stroke-width="0.3">1/8</text>
<text x="1519.2" y="1510.6" font-family="'Liberation Sans', sans-serif" font-size="16.0" font-weight="normal" text-anchor="middle" textLength="20.5" lengthAdjust="spacingAndGlyphs" stroke="#000" stroke-width="0.3">2/0</text>
<text x="1547.0" y="1510.6" font-family="'Liberation Sans', sans-serif" font-size="16.0" font-weight="normal" text-anchor="middle" textLength="20.5" lengthAdjust="spacingAndGlyphs" stroke="#000" stroke-width="0.3">2/2</text>
<text x="1574.8" y="1510.6" font-family="'Liberation Sans', sans-serif" font-size="16.0" font-weight="normal" text-anchor="middle" textLength="20.5" lengthAdjust="spacingAndGlyphs" stroke="#000" stroke-width="0.3">2/4</text>
<text x="1602.6" y="1510.6" font-family="'Liberation Sans', sans-serif" font-size="16.0" font-weight="normal" text-anchor="middle" textLength="20.5" lengthAdjust="spacingAndGlyphs" stroke="#000" stroke-width="0.3">2/6</text>
<text x="1630.4" y="1510.6" font-family="'Liberation Sans', sans-serif" font-size="16.0" font-weight="normal" text-anchor="middle" textLength="20.5" lengthAdjust="spacingAndGlyphs" stroke="#000" stroke-width="0.3">2/8</text>
<text x="1658.2" y="1510.6" font-family="'Liberation Sans', sans-serif" font-size="16.0" font-weight="normal" text-anchor="middle" textLength="20.5" lengthAdjust="spacingAndGlyphs" stroke="#000" stroke-width="0.3">3/0</text>
<text x="1686.0" y="1510.6" font-family="'Liberation Sans', sans-serif" font-size="16.0" font-weight="normal" text-anchor="middle" textLength="20.5" lengthAdjust="spacingAndGlyphs" stroke="#000" stroke-width="0.3">3/2</text>
<text x="1713.8" y="1510.6" font-family="'Liberation Sans', sans-serif" font-size="16.0" font-weight="normal" text-anchor="middle" textLength="20.5" lengthAdjust="spacingAndGlyphs" stroke="#000" stroke-width="0.3">3/4</text>
<text x="1741.6" y="1510.6" font-family="'Liberation Sans', sans-serif" font-size="16.0" font-weight="normal" text-anchor="middle" textLength="20.5" lengthAdjust="spacingAndGlyphs" stroke="#000" stroke-width="0.3">3/6</text>
<text x="1769.4" y="1510.6" font-family="'Liberation Sans', sans-serif" font-size="16.0" font-weight="normal" text-anchor="middle" textLength="20.5" lengthAdjust="spacingAndGlyphs" stroke="#000" stroke-width="0.3">3/8</text>
<text x="1797.2" y="1510.6" font-family="'Liberation Sans', sans-serif" font-size="16.0" font-weight="normal" text-anchor="middle" textLength="20.5" lengthAdjust="spacingAndGlyphs" stroke="#000" stroke-width="0.3">4/0</text>
<text x="1825.0" y="1510.6" font-family="'Liberation Sans', sans-serif" font-size="16.0" font-weight="normal" text-anchor="middle" textLength="20.5" lengthAdjust="spacingAndGlyphs" stroke="#000" stroke-width="0.3">4/2</text>
<text x="1852.8" y="1510.6" font-family="'Liberation Sans', sans-serif" font-size="16.0" font-weight="normal" text-anchor="middle" textLength="20.5" lengthAdjust="spacingAndGlyphs" stroke="#000" stroke-width="0.3">4/4</text>
<text x="1880.6" y="1510.6" font-family="'Liberation Sans', sans-serif" font-size="16.0" font-weight="normal" text-anchor="middle" textLength="20.5" lengthAdjust="spacingAndGlyphs" stroke="#000" stroke-width="0.3">4/6</text>
<text x="1908.4" y="1510.6" font-family="'Liberation Sans', sans-serif" font-size="16.0" font-weight="normal" text-anchor="middle" textLength="20.5" lengthAdjust="spacingAndGlyphs" stroke="#000" stroke-width="0.3">4/8</text>
<text x="1450.0" y="1121.4" font-family="'Liberation Sans', sans-serif" font-size="15.5" font-weight="normal" text-anchor="end" textLength="20.6" lengthAdjust="spacingAndGlyphs" stroke="#000" stroke-width="0.3">2/4</text>
<text x="1450.0" y="1160.2" font-family="'Liberation Sans', sans-serif" font-size="15.5" font-weight="normal" text-anchor="end" textLength="20.6" lengthAdjust="spacingAndGlyphs" stroke="#000" stroke-width="0.3">2/2</text>
<text x="1450.0" y="1199.1" font-family="'Liberation Sans', sans-serif" font-size="15.5" font-weight="normal" text-anchor="end" textLength="20.6" lengthAdjust="spacingAndGlyphs" stroke="#000" stroke-width="0.3">2/0</text>
<text x="1450.0" y="1238.0" font-family="'Liberation Sans', sans-serif" font-size="15.5" font-weight="normal" text-anchor="end" textLength="20.6" lengthAdjust="spacingAndGlyphs" stroke="#000" stroke-width="0.3">1/8</text>
<text x="1450.0" y="1276.8" font-family="'Liberation Sans', sans-serif" font-size="15.5" font-weight="normal" text-anchor="end" textLength="20.6" lengthAdjust="spacingAndGlyphs" stroke="#000" stroke-width="0.3">1/6</text>
<text x="1450.0" y="1315.7" font-family="'Liberation Sans', sans-serif" font-size="15.5" font-weight="normal" text-anchor="end" textLength="20.6" lengthAdjust="spacingAndGlyphs" stroke="#000" stroke-width="0.3">1/4</text>
<text x="1450.0" y="1354.5" font-family="'Liberation Sans', sans-serif" font-size="15.5" font-weight="normal" text-anchor="end" textLength="20.6" lengthAdjust="spacingAndGlyphs" stroke="#000" stroke-width="0.3">1/2</text>
<text x="1450.0" y="1393.4" font-family="'Liberation Sans', sans-serif" font-size="15.5" font-weight="normal" text-anchor="end" textLength="20.6" lengthAdjust="spacingAndGlyphs" stroke="#000" stroke-width="0.3">1/0</text>
<text x="1450.0" y="1432.2" font-family="'Liberation Sans', sans-serif" font-size="15.5" font-weight="normal" text-anchor="end" textLength="20.6" lengthAdjust="spacingAndGlyphs" stroke="#000" stroke-width="0.3">0/8</text>
<text x="1450.0" y="1471.1" font-family="'Liberation Sans', sans-serif" font-size="15.5" font-weight="normal" text-anchor="end" textLength="20.6" lengthAdjust="spacingAndGlyphs" stroke="#000" stroke-width="0.3">0/6</text>
<text transform="translate(1402.6,1289.45) rotate(-90)" font-family="'Liberation Sans', sans-serif" font-size="22.5" text-anchor="middle" stroke="#000" stroke-width="0.3" textLength="95.3" lengthAdjust="spacingAndGlyphs">(ahv)^1/2</text>
<text x="1692.2" y="1543.2" font-family="'Liberation Sans', sans-serif" font-size="25.0" font-weight="normal" text-anchor="middle" textLength="23.7" lengthAdjust="spacingAndGlyphs" stroke="#000" stroke-width="0.3">e&#965;</text>
<path d="M1463.0,1336.5 C1466.2,1334.6 1475.4,1328.8 1482.4,1325.2 C1489.4,1321.6 1497.3,1318.4 1504.8,1314.8 C1512.3,1311.2 1519.8,1307.2 1527.3,1303.6 C1534.8,1300.0 1542.2,1296.3 1549.7,1293.1 C1557.2,1289.8 1564.6,1287.1 1572.1,1284.1 C1579.6,1281.1 1587.0,1277.9 1594.5,1275.2 C1602.0,1272.5 1609.5,1270.0 1617.0,1267.7 C1624.5,1265.5 1631.9,1263.6 1639.4,1261.7 C1646.9,1259.8 1654.3,1258.1 1661.8,1256.5 C1669.3,1254.9 1679.0,1253.2 1684.2,1252.0 C1689.4,1250.8 1690.6,1250.1 1693.2,1249.0 C1695.8,1247.9 1696.9,1247.3 1699.6,1245.4 C1702.2,1243.5 1705.5,1240.5 1709.1,1237.6 C1712.7,1234.7 1716.7,1231.4 1721.1,1228.0 C1725.5,1224.6 1730.7,1220.5 1735.5,1217.3 C1740.3,1214.1 1745.4,1211.3 1749.8,1208.9 C1754.2,1206.5 1757.8,1205.5 1761.8,1202.9 C1765.8,1200.3 1770.2,1196.1 1773.8,1193.3 C1777.4,1190.5 1779.7,1189.5 1783.3,1186.1 C1786.9,1182.7 1791.3,1178.0 1795.3,1173.0 C1799.3,1168.0 1803.3,1160.6 1807.3,1156.2 C1811.3,1151.8 1814.8,1149.7 1819.2,1146.7 C1823.6,1143.7 1828.6,1140.4 1833.6,1138.3 C1838.6,1136.2 1843.9,1135.2 1849.1,1134.1 C1854.3,1133.0 1860.5,1131.8 1864.7,1131.7 C1868.9,1131.6 1870.5,1132.0 1874.3,1133.5 C1878.1,1135.0 1883.2,1137.7 1887.4,1140.7 C1891.6,1143.7 1895.4,1147.6 1899.4,1151.4 C1903.4,1155.2 1907.6,1159.6 1911.3,1163.4 C1915.0,1167.2 1919.8,1172.4 1921.5,1174.2" fill="none" stroke="#000" stroke-width="2.6" stroke-linejoin="round"/>
<line x1="1842" y1="1118.3" x2="1507.5" y2="1478.2" stroke="#f00000" stroke-width="2.5"/>
<polygon points="1500.3,1486.3 1509.8,1467.8 1518.0,1475.5" fill="#f80000"/>
<rect x="1498.4" y="1065.2" width="308.1" height="91.2" fill="#fff" stroke="#000" stroke-width="2"/>
<text x="1651.9" y="1125.0" font-family="'Liberation Serif', serif" font-size="46.0" font-weight="bold" text-anchor="middle" textLength="234.8" lengthAdjust="spacingAndGlyphs">ZnO/Ag/GO</text>
</svg></body></html>
